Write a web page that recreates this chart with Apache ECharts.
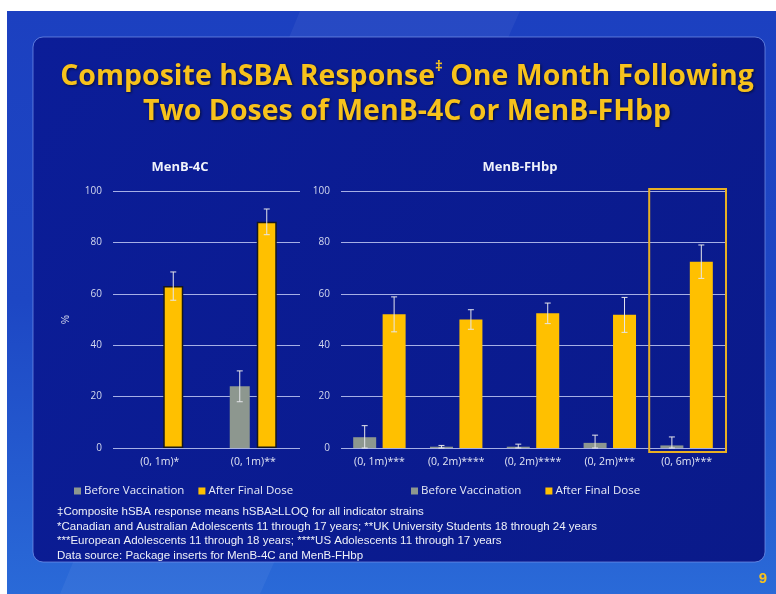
<!DOCTYPE html>
<html>
<head>
<meta charset="utf-8">
<title>Composite hSBA Response</title>
<script src="https://cdn.jsdelivr.net/npm/echarts@6/dist/echarts.min.js"></script>
<style>
  html, body { margin: 0; padding: 0; background: #ffffff; }
  #main { width: 776px; height: 594px; }
</style>
</head>
<body>
<div id="main"></div>
<script>
// left panel (MenB-4C)
const leftCategories = ['(0, 1m)*', '(0, 1m)**']
const leftBefore = [null, 24]
const leftBeforeErr = [null, 6]
const leftAfter = [63, 88]
const leftAfterErr = [5.5, 5]

// right panel (MenB-FHbp)
const rightCategories = ['(0, 1m)***', '(0, 2m)****', '(0, 2m)****', '(0, 2m)***', '(0, 6m)***']
const rightBefore = [4.2, 0.5, 0.5, 2, 1]
const rightBeforeErr = [4.5, 0.5, 1, 3, 3.3]
const rightAfter = [52, 50, 52.4, 51.8, 72.5]
const rightAfterErr = [6.8, 3.8, 4, 6.8, 6.5]

const yTicks = [0, 20, 40, 60, 80, 100]
const highlightIndex = 4 // boxed category on the right

const footnotes = [
  '\u2021Composite hSBA response means hSBA\u2265LLOQ for all indicator strains',
  '*Canadian and Australian Adolescents 11 through 17 years; **UK University Students 18 through 24 years',
  '***European Adolescents 11 through 18 years; ****US Adolescents 11 through 17 years',
  'Data source: Package inserts for MenB-4C and MenB-FHbp'
]

const GRAY = '#8d978f'
const YELLOW = '#ffc000'
const GOLD = '#f7c21c'

// error bar triples: [category, low, high, side]
function errData (vals, errs, side) {
  const out = []
  vals.forEach((v, i) => {
    if (v == null || errs[i] == null) return
    out.push([i, Math.max(0, v - errs[i]), v + errs[i], side])
  })
  return out
}

// draws the whisker over each bar, offset like the bar inside its band
function errRender (barW, gapW) {
  return function (params, api) {
    const cat = api.value(0)
    const side = api.value(3)
    const lo = api.coord([cat, api.value(1)])
    const hi = api.coord([cat, api.value(2)])
    const x = lo[0] + (side === 0 ? -1 : 1) * (barW + gapW) / 2
    const cap = 3
    const st = { stroke: '#e6e6ea', lineWidth: 1 }
    return {
      type: 'group',
      children: [
        { type: 'line', shape: { x1: x, y1: hi[1], x2: x, y2: lo[1] }, style: st },
        { type: 'line', shape: { x1: x - cap, y1: hi[1], x2: x + cap, y2: hi[1] }, style: st },
        { type: 'line', shape: { x1: x - cap, y1: lo[1], x2: x + cap, y2: lo[1] }, style: st }
      ]
    }
  }
}

const chart = echarts.init(document.getElementById('main'))

const yAxisBase = {
  type: 'value',
  min: yTicks[0],
  max: yTicks[yTicks.length - 1],
  interval: 20,
  axisLine: { show: false },
  axisTick: { show: false },
  axisLabel: { color: '#d4d9ee', fontSize: 10, margin: 11, fontFamily: 'Open Sans' },
  splitLine: { lineStyle: { color: 'rgba(205,212,250,0.8)', width: 1 } }
}
const xAxisBase = {
  type: 'category',
  axisLine: { show: false },
  axisTick: { show: false },
  axisLabel: { color: '#e4e7f4', fontSize: 10.5, margin: 9, fontFamily: 'Open Sans', interval: 0 }
}
const legendBase = {
  data: ['Before Vaccination', 'After Final Dose'],
  icon: 'rect',
  itemWidth: 7,
  itemHeight: 7,
  top: 480,
  itemStyle: { borderWidth: 0 },
  textStyle: { color: '#e8ebf6', fontSize: 11.5, fontFamily: 'Open Sans', padding: [0, 0, 0, -2] }
}

const option = {
  backgroundColor: '#ffffff',
  animation: false,
  graphic: [
    // slide background
    {
      type: 'rect', z: -30, silent: true,
      shape: { x: 7, y: 11, width: 769, height: 583 },
      style: {
        fill: new echarts.graphic.LinearGradient(0, 0, 0, 1, [
          { offset: 0, color: '#1c40c0' },
          { offset: 0.5, color: '#1d47c4' },
          { offset: 1, color: '#2a6ad8' }
        ])
      }
    },
    // soft diagonal highlight across the slide
    {
      type: 'polygon', z: -29, silent: true,
      shape: { points: [[300, 11], [520, 11], [260, 594], [60, 594]] },
      style: { fill: 'rgba(255,255,255,0.05)' }
    },
    // dark inner panel
    {
      type: 'rect', z: -28, silent: true,
      shape: { x: 33, y: 37, width: 732, height: 525, r: 10 },
      style: {
        fill: new echarts.graphic.LinearGradient(0, 0, 1, 1, [
          { offset: 0, color: '#0b1d98' },
          { offset: 1, color: '#0a1a8a' }
        ]),
        stroke: 'rgba(120,150,235,0.7)',
        lineWidth: 1
      }
    },
    // main title
    {
      type: 'text', z: 10, silent: true,
      x: 407, y: 94,
      style: {
        text: '{t|Composite hSBA Response}{s|\u2021}{t| One Month Following}\n{t|Two Doses of MenB-4C or MenB-FHbp}',
        align: 'center',
        verticalAlign: 'middle',
        rich: {
          t: { fontSize: 28.5, fontWeight: 'bold', fontFamily: 'Open Sans', fill: GOLD, lineHeight: 35,
            textShadowColor: 'rgba(0,0,0,0.6)', textShadowBlur: 3, textShadowOffsetX: 1, textShadowOffsetY: 1 },
          s: { fontSize: 15, fontWeight: 'bold', fontFamily: 'Open Sans', fill: GOLD, lineHeight: 35,
            verticalAlign: 'top', padding: [0, 0, 4, 0] }
        }
      }
    },
    // panel headings
    {
      type: 'text', silent: true, x: 180, y: 167,
      style: { text: 'MenB-4C', align: 'center', verticalAlign: 'middle', fill: '#f0f2fa',
        font: 'bold 13px "Open Sans"' }
    },
    {
      type: 'text', silent: true, x: 520, y: 167,
      style: { text: 'MenB-FHbp', align: 'center', verticalAlign: 'middle', fill: '#f0f2fa',
        font: 'bold 13px "Open Sans"' }
    },
    // footnotes
    {
      type: 'text', silent: true, x: 57, y: 505,
      style: {
        text: footnotes.join('\n'),
        fill: '#eef0f8',
        font: '11.5px "Liberation Sans"',
        lineHeight: 14.5
      }
    },
    // page number
    {
      type: 'text', silent: true, x: 763, y: 579,
      style: { text: '9', align: 'center', verticalAlign: 'middle', fill: GOLD,
        font: 'bold 15px "Liberation Sans"' }
    }
  ],
  legend: [
    Object.assign({}, legendBase, { left: 69, itemGap: 14 }),
    Object.assign({}, legendBase, { left: 406, itemGap: 24 })
  ],
  grid: [
    { left: 113, right: 476, top: 191, bottom: 146 },
    { left: 341, right: 51, top: 191, bottom: 146 }
  ],
  xAxis: [
    Object.assign({}, xAxisBase, { gridIndex: 0, data: leftCategories }),
    Object.assign({}, xAxisBase, { gridIndex: 1, data: rightCategories })
  ],
  yAxis: [
    Object.assign({}, yAxisBase, {
      gridIndex: 0,
      name: '%',
      nameLocation: 'middle',
      nameRotate: 90,
      nameGap: 42,
      nameTextStyle: { color: '#d4d9ee', fontSize: 10 }
    }),
    Object.assign({}, yAxisBase, { gridIndex: 1 })
  ],
  series: [
    {
      name: 'Before Vaccination', type: 'bar', xAxisIndex: 0, yAxisIndex: 0,
      data: leftBefore, barWidth: 20, barGap: '35%',
      itemStyle: { color: GRAY }
    },
    {
      name: 'After Final Dose', type: 'bar', xAxisIndex: 0, yAxisIndex: 0,
      data: leftAfter, barWidth: 20, barGap: '35%',
      itemStyle: { color: YELLOW, borderColor: '#17171c', borderWidth: 1.5 }
    },
    {
      name: 'Before Vaccination', type: 'bar', xAxisIndex: 1, yAxisIndex: 1,
      data: rightBefore, barWidth: 23, barGap: '28%',
      itemStyle: { color: GRAY }
    },
    {
      name: 'After Final Dose', type: 'bar', xAxisIndex: 1, yAxisIndex: 1,
      data: rightAfter, barWidth: 23, barGap: '28%',
      itemStyle: { color: YELLOW }
    },
    // error bars
    {
      type: 'custom', xAxisIndex: 0, yAxisIndex: 0, silent: true, z: 5,
      renderItem: errRender(20, 7),
      data: errData(leftBefore, leftBeforeErr, 0).concat(errData(leftAfter, leftAfterErr, 1))
    },
    {
      type: 'custom', xAxisIndex: 1, yAxisIndex: 1, silent: true, z: 5,
      renderItem: errRender(23, 6.44),
      data: errData(rightBefore, rightBeforeErr, 0).concat(errData(rightAfter, rightAfterErr, 1))
    },
    // highlight box round the last right-hand category
    {
      type: 'custom', xAxisIndex: 1, yAxisIndex: 1, silent: true, z: 6,
      renderItem: function (params, api) {
        const top = api.coord([api.value(0), api.value(2)])
        const bot = api.coord([api.value(0), api.value(1)])
        const band = api.size([1, 0])[0]
        return {
          type: 'rect',
          shape: { x: top[0] - band / 2 + 1, y: top[1] - 2, width: band, height: bot[1] - top[1] + 6 },
          style: { fill: 'none', stroke: '#e8b023', lineWidth: 2 }
        }
      },
      data: [[highlightIndex, yTicks[0], yTicks[yTicks.length - 1]]]
    }
  ]
}

chart.setOption(option)
</script>
</body>
</html>
